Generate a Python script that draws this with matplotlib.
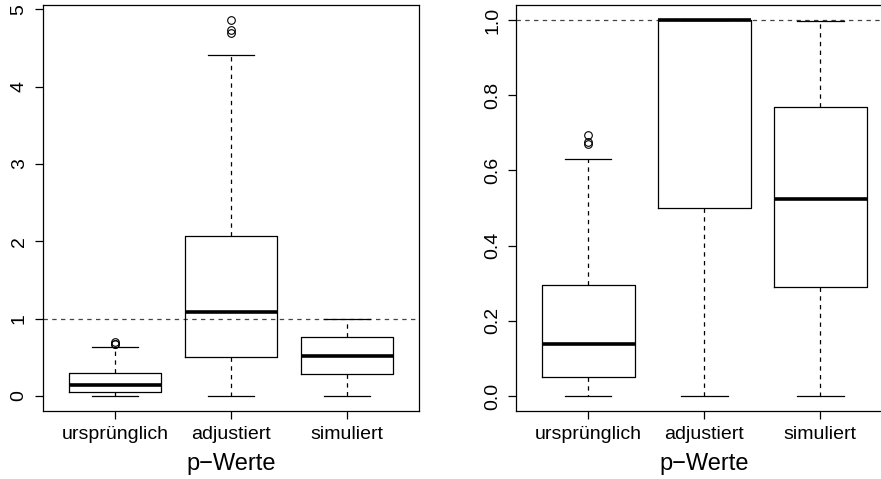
import numpy as np
import matplotlib
matplotlib.use('Agg')
import matplotlib.pyplot as plt

plt.rcParams.update({
    'font.family': ['Liberation Sans', 'DejaVu Sans'],
    'font.size': 14, 'axes.linewidth': 0.9,
})

groups = ['ursprünglich', 'adjustiert', 'simuliert']

# left panel: adjusted p-values not truncated
left_lo = [0.0, 0.0, 0.0]
left_q1 = [0.048, 0.50, 0.288]
left_med = [0.138, 1.085, 0.522]
left_q3 = [0.294, 2.063, 0.765]
left_hi = [0.63, 4.41, 0.996]
left_fliers = [[0.67, 0.675, 0.695], [4.69, 4.73, 4.86], []]

# right panel: truncated at 1
right_lo = [0.0, 0.0, 0.0]
right_q1 = [0.05, 0.50, 0.289]
right_med = [0.138, 1.0, 0.523]
right_q3 = [0.295, 1.0, 0.768]
right_hi = [0.631, 1.0, 0.997]
right_fliers = [[0.67, 0.675, 0.695], [], []]


def stats(lo, q1, med, q3, hi, fl):
    return [dict(label=g, whislo=lo[i], q1=q1[i], med=med[i], q3=q3[i],
                 whishi=hi[i], fliers=fl[i]) for i, g in enumerate(groups)]


W, H = 881, 479
fig = plt.figure(figsize=(W / 100, H / 100), dpi=100)
ax1 = fig.add_axes([43 / W, 1 - 411 / H, 376 / W, 406 / H])
ax2 = fig.add_axes([516.3 / W, 1 - 411 / H, 376 / W, 406 / H])


def draw(ax, st, ticks, fmt, ymax):
    ax.bxp(st, positions=[1, 2, 3], widths=0.8, showfliers=True,
           boxprops=dict(color='black', lw=0.9),
           whiskerprops=dict(color='black', lw=0.9, linestyle=(0, (3.5, 3.5))),
           capprops=dict(color='black', lw=0.9),
           medianprops=dict(color='black', lw=2.6),
           flierprops=dict(marker='o', markerfacecolor='none', markeredgecolor='black',
                           markersize=5.5, markeredgewidth=0.8),
           capwidths=0.4)
    ax.axhline(1, color='#444444', lw=0.9, linestyle=(0, (3.5, 3.5)), zorder=0)
    ax.set_xlim(0.38, 3.62)
    ax.set_ylim(-0.04 * ymax, 1.04 * ymax)
    ax.set_yticks(ticks)
    ax.set_yticklabels([fmt.format(t) for t in ticks], rotation=90, va='center')
    ax.set_xticks([1, 2, 3])
    ax.set_xticklabels(groups)
    ax.tick_params(axis='y', length=6, width=0.9, pad=5)
    ax.tick_params(axis='x', length=5.5, width=0.9, pad=5.5)
    ax.set_xlabel('p\u2212Werte', fontsize=17, labelpad=7)


draw(ax1, stats(left_lo, left_q1, left_med, left_q3, left_hi, left_fliers),
     [0, 1, 2, 3, 4, 5], '{:d}', 4.86)
draw(ax2, stats(right_lo, right_q1, right_med, right_q3, right_hi, right_fliers),
     [0.0, 0.2, 0.4, 0.6, 0.8, 1.0], '{:.1f}', 1.0)

fig.savefig('out.png', dpi=100)
